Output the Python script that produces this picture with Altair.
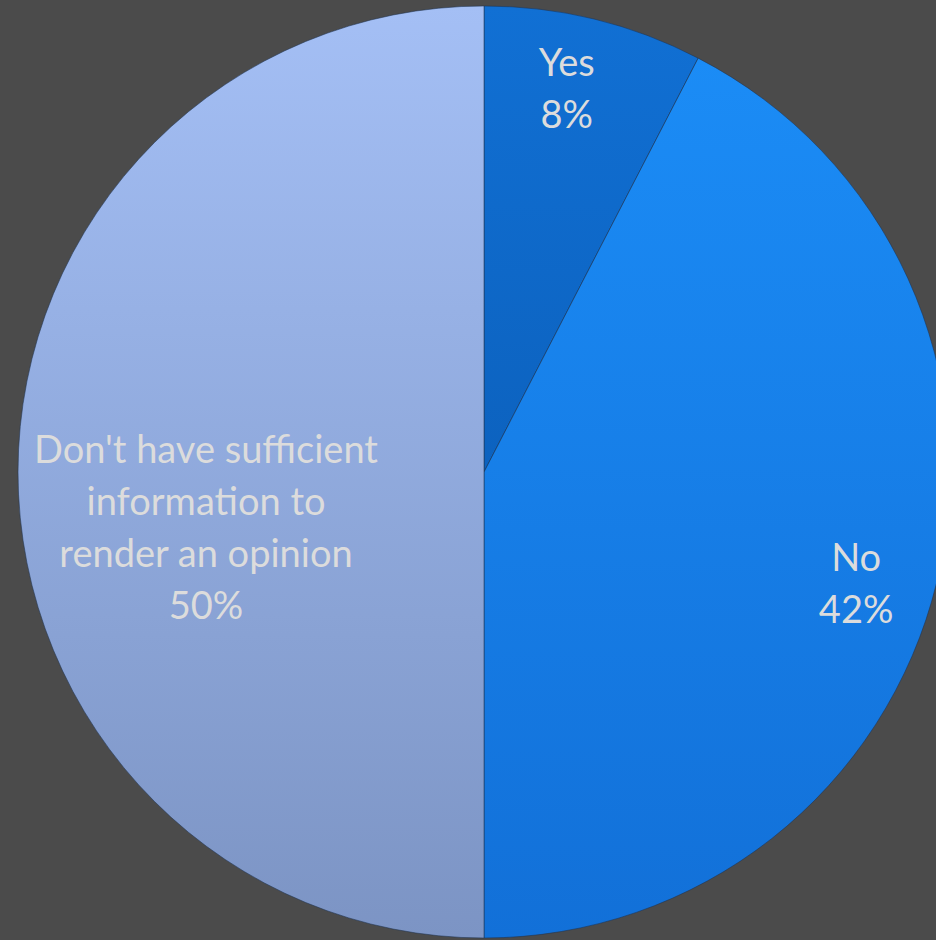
import math
import altair as alt
import pandas as pd

categories = ["Yes", "No", "Don't have sufficient information to render an opinion"]
values = [7.6, 42.4, 50.0]
labels = ["Yes\n8%", "No\n42%", "Don't have sufficient\ninformation to\nrender an opinion\n50%"]
order = [0, 1, 2]

df = pd.DataFrame({"category": categories, "value": values, "label": labels, "order": order})

grad = {
    "Yes": ("#1170d4", "#0c62bf"),
    "No": ("#1b8cf6", "#1270d8"),
    "Don't have sufficient information to render an opinion": ("#a4bff5", "#7c94c4"),
}

base = alt.Chart(df).transform_window(
    cum="sum(value)", sort=[alt.SortField("order")], frame=[None, 0]
).transform_calculate(
    start="datum.cum - datum.value",
    mid="datum.cum - datum.value / 2",
)

tscale = alt.Scale(domain=[0, 100], range=[0, 2 * math.pi])
CX, CY, R = 484, 472, 466

layers = []
for cat in categories:
    top, bottom = grad[cat]
    arc = base.transform_filter(alt.datum.category == cat).mark_arc(
        radius=R,
        fill=alt.Gradient(
            gradient="linear",
            stops=[alt.GradientStop(color=top, offset=0), alt.GradientStop(color=bottom, offset=1)],
            x1=0, x2=0, y1=0, y2=1,
        ),
        stroke="#1f3350",
        strokeWidth=1,
        strokeOpacity=0.55,
    ).encode(
        theta=alt.Theta("start:Q", scale=tscale),
        theta2="cum:Q",
        x=alt.value(CX),
        y=alt.value(CY),
    )
    layers.append(arc)

text_common = dict(
    font="Lato", fontSize=38, color="#dcdcdc", align="center", baseline="middle",
    lineBreak="\n", lineHeight=52,
)

# label placement (radius from centre, extra offsets) per slice order
placement = {0: (392, -10, -26), 1: (383, 0, -3), 2: (278, 0, -20)}

for o, (rad, dx, dy) in placement.items():
    t = base.transform_filter(alt.datum.order == o).mark_text(
        radius=rad, dx=dx, dy=dy, **text_common
    ).encode(
        theta=alt.Theta("mid:Q", scale=tscale),
        text="label:N",
        x=alt.value(CX),
        y=alt.value(CY),
    )
    layers.append(t)

chart = alt.layer(*layers).properties(
    width=936, height=940, background="#4b4b4b", padding=0,
    autosize=alt.AutoSizeParams(type="none"),
).configure_view(stroke=None)

chart.save("out.html", embed_options={"renderer": "svg", "actions": False})
